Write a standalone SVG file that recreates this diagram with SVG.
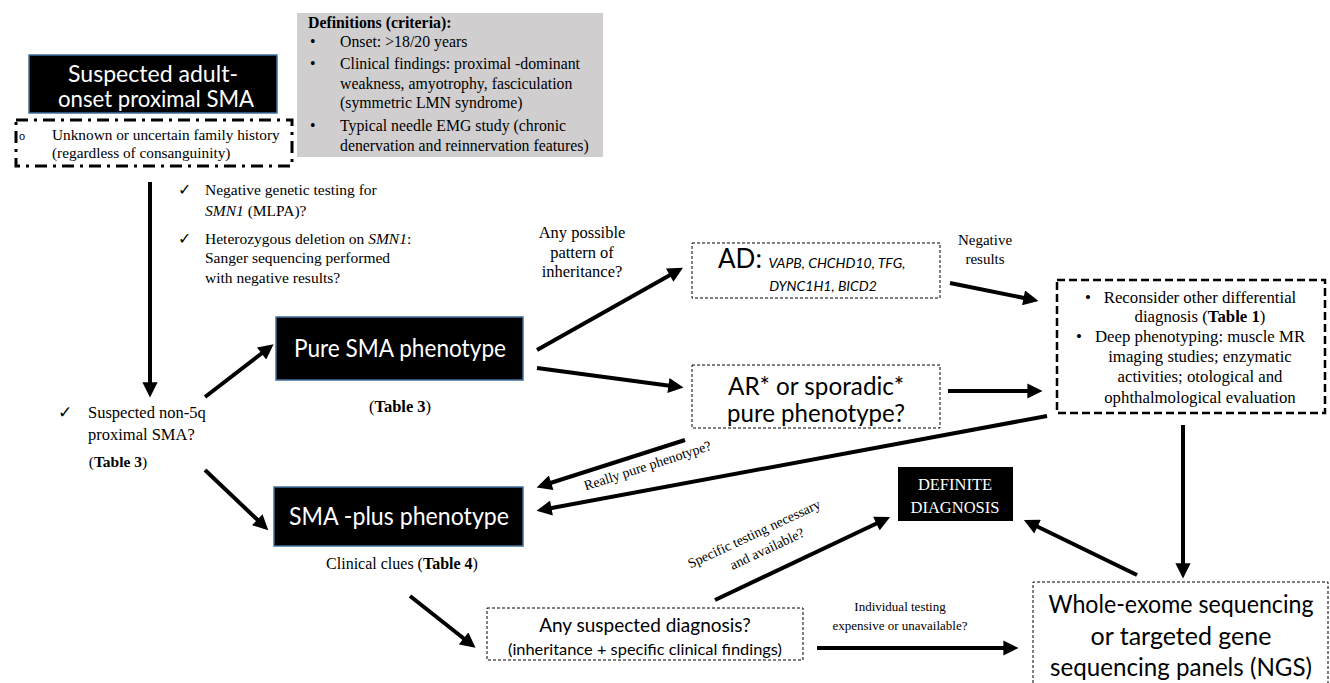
<svg xmlns="http://www.w3.org/2000/svg" width="1330" height="683" viewBox="0 0 1330 683">
<style>
.serif{font-family:"Liberation Serif","Times New Roman",serif;fill:#000}
.sans{font-family:Lato,"Open Sans","Liberation Sans",sans-serif}
.white{fill:#fff}
.blk{fill:#000;stroke:#41719c;stroke-width:1.5}
.thin{fill:#fff;stroke:#000;stroke-width:1;stroke-dasharray:3 2}
.conn line{stroke:#000;stroke-width:4;marker-end:url(#ah)}
</style>
<defs>
<marker id="ah" viewBox="0 0 10 10" refX="7" refY="5" markerWidth="4" markerHeight="3.8" orient="auto" markerUnits="strokeWidth">
<path d="M0,0 L10,5 L0,10 z" fill="#000"/>
</marker>
</defs>
<rect width="1330" height="683" fill="#fff"/>

<g id="definitions">
<rect x="297" y="13" width="306" height="144" fill="#d0cece"/>
<g class="serif" font-size="15.8">
<text x="308" y="28" font-weight="bold">Definitions (criteria):</text>
<text x="310" y="47">•</text><text x="340" y="47">Onset: &gt;18/20 years</text>
<text x="310" y="69">•</text><text x="340" y="69">Clinical findings: proximal -dominant</text>
<text x="340" y="89">weakness, amyotrophy, fasciculation</text>
<text x="340" y="108">(symmetric LMN syndrome)</text>
<text x="310" y="131">•</text><text x="340" y="131">Typical needle EMG study (chronic</text>
<text x="340" y="151">denervation and reinnervation features)</text>
</g>
</g>

<g id="start">
<rect class="blk" x="29" y="55" width="248" height="58"/>
<text class="sans white" font-size="23.5" text-anchor="middle" x="153" y="82" textLength="170" lengthAdjust="spacingAndGlyphs">Suspected adult-</text>
<text class="sans white" font-size="23.5" text-anchor="middle" x="156" y="107" textLength="196" lengthAdjust="spacingAndGlyphs">onset proximal SMA</text>
</g>

<g id="family-history">
<rect x="16" y="120" width="276" height="46" fill="none" stroke="#000" stroke-width="3" stroke-dasharray="12 6 3 6"/>
<text x="19" y="140" font-family="'Liberation Sans',sans-serif" font-size="11">o</text>
<text class="serif" font-size="15.3" x="52" y="140">Unknown or uncertain family history</text>
<text class="serif" font-size="15.3" x="52" y="158">(regardless of consanguinity)</text>
</g>

<g id="smn1-checks" class="serif" font-size="15.5">
<text x="178" y="195">✓</text>
<text x="205" y="195">Negative genetic testing for</text>
<text x="205" y="216"><tspan font-style="italic">SMN1</tspan> (MLPA)?</text>
<text x="178" y="244">✓</text>
<text x="205" y="244">Heterozygous deletion on <tspan font-style="italic">SMN1</tspan>:</text>
<text x="205" y="263">Sanger sequencing performed</text>
<text x="205" y="283">with negative results?</text>
</g>

<g id="non5q" class="serif" font-size="16.5">
<text x="58" y="418">✓</text>
<text x="88" y="418">Suspected non-5q</text>
<text x="88" y="440">proximal SMA?</text>
<text x="118" y="467" text-anchor="middle" font-size="15.5">(<tspan font-weight="bold">Table 3</tspan>)</text>
</g>

<g id="pure-sma">
<rect class="blk" x="276" y="317" width="247" height="63"/>
<text class="sans white" font-size="24.5" text-anchor="middle" x="400" y="357" textLength="212" lengthAdjust="spacingAndGlyphs">Pure SMA phenotype</text>
<text class="serif" font-size="16.5" text-anchor="middle" x="400" y="412">(<tspan font-weight="bold">Table 3</tspan>)</text>
</g>

<g id="sma-plus">
<rect class="blk" x="274" y="487" width="249" height="59"/>
<text class="sans white" font-size="24.5" text-anchor="middle" x="399" y="525" textLength="220" lengthAdjust="spacingAndGlyphs">SMA -plus phenotype</text>
<text class="serif" font-size="16" text-anchor="middle" x="402" y="569">Clinical clues (<tspan font-weight="bold">Table 4</tspan>)</text>
</g>

<g id="ad">
<rect class="thin" x="692" y="243" width="248" height="55"/>
<text class="sans" font-size="26" x="718" y="268">AD: <tspan font-size="14" font-style="italic">VAPB, CHCHD10, TFG,</tspan></text>
<text class="sans" font-size="14" font-style="italic" text-anchor="middle" x="823" y="291">DYNC1H1, BICD2</text>
</g>

<g id="ar">
<rect class="thin" x="692" y="365" width="248" height="63"/>
<text class="sans" font-size="24.5" text-anchor="middle" x="816" y="395" textLength="176" lengthAdjust="spacingAndGlyphs">AR* or sporadic*</text>
<text class="sans" font-size="24.5" text-anchor="middle" x="816" y="422" textLength="178" lengthAdjust="spacingAndGlyphs">pure phenotype?</text>
</g>

<g id="reconsider">
<rect x="1057" y="280" width="268" height="133" fill="#fff" stroke="#000" stroke-width="2.5" stroke-dasharray="8 4"/>
<g class="serif" font-size="16.8">
<text x="1085" y="303">•</text>
<text x="1200" y="303" text-anchor="middle">Reconsider other differential</text>
<text x="1200" y="322" text-anchor="middle">diagnosis (<tspan font-weight="bold">Table 1</tspan>)</text>
<text x="1076" y="342">•</text>
<text x="1200" y="342" text-anchor="middle">Deep phenotyping: muscle MR</text>
<text x="1200" y="362" text-anchor="middle">imaging studies; enzymatic</text>
<text x="1200" y="382" text-anchor="middle">activities; otological and</text>
<text x="1200" y="403" text-anchor="middle">ophthalmological evaluation</text>
</g>
</g>

<g id="definite">
<rect x="898" y="467" width="115" height="54" fill="#000"/>
<text class="serif white" font-size="16.5" text-anchor="middle" x="955" y="490">DEFINITE</text>
<text class="serif white" font-size="16.5" text-anchor="middle" x="955" y="513">DIAGNOSIS</text>
</g>

<g id="suspected-dx">
<rect class="thin" x="487" y="608" width="316" height="52"/>
<text class="sans" font-size="19" text-anchor="middle" x="645" y="632">Any suspected diagnosis?</text>
<text class="sans" font-size="16" text-anchor="middle" x="645" y="655" textLength="274" lengthAdjust="spacingAndGlyphs">(inheritance + specific clinical findings)</text>
</g>

<g id="wes">
<path d="M1033,683 V582 H1328 V683" fill="none" stroke="#000" stroke-width="1" stroke-dasharray="3 2"/>
<text class="sans" font-size="25" text-anchor="middle" x="1181" y="613" textLength="265" lengthAdjust="spacingAndGlyphs">Whole-exome sequencing</text>
<text class="sans" font-size="25" text-anchor="middle" x="1181" y="645">or targeted gene</text>
<text class="sans" font-size="25" text-anchor="middle" x="1181" y="676" textLength="262" lengthAdjust="spacingAndGlyphs">sequencing panels (NGS)</text>
</g>

<g id="connectors" class="conn">
<line x1="150" y1="182" x2="150" y2="393"/>
<line x1="205" y1="397" x2="270" y2="347"/>
<line x1="205" y1="470" x2="265" y2="527"/>
<line x1="537" y1="350" x2="679" y2="270"/>
<line x1="537" y1="368" x2="679" y2="387"/>
<line x1="950" y1="283" x2="1034" y2="300"/>
<line x1="948" y1="391" x2="1038" y2="391"/>
<line x1="685" y1="440" x2="541" y2="486"/>
<line x1="1047" y1="416" x2="541" y2="510"/>
<line x1="1183" y1="425" x2="1183" y2="574"/>
<line x1="1137" y1="575" x2="1028" y2="522"/>
<line x1="715" y1="600" x2="886" y2="519"/>
<line x1="410" y1="596" x2="472" y2="645"/>
<line x1="817" y1="648" x2="1014" y2="648"/>
</g>

<g id="labels" class="serif">
<g font-size="16.5" text-anchor="middle">
<text x="582" y="238">Any possible</text>
<text x="582" y="258">pattern of</text>
<text x="582" y="277">inheritance?</text>
</g>
<g font-size="15" text-anchor="middle">
<text x="985" y="245">Negative</text>
<text x="985" y="264">results</text>
</g>
<g font-size="13" text-anchor="middle">
<text x="900" y="611">Individual testing</text>
<text x="900" y="630">expensive or unavailable?</text>
</g>
<text font-size="14" text-anchor="middle" transform="translate(649,470) rotate(-18)">Really pure phenotype?</text>
<text font-size="14" text-anchor="middle" transform="translate(756,538) rotate(-25)">Specific testing necessary</text>
<text font-size="14" text-anchor="middle" transform="translate(769,553) rotate(-25)">and available?</text>
</g>
</svg>
